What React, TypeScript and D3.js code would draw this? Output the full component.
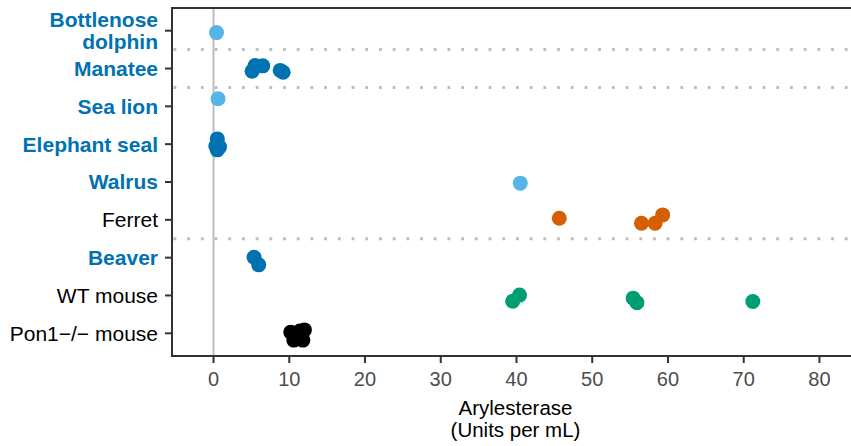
import React from "react";
import * as d3 from "d3";

const categories = [
  "Bottlenose dolphin",
  "Manatee",
  "Sea lion",
  "Elephant seal",
  "Walrus",
  "Ferret",
  "Beaver",
  "WT mouse",
  "Pon1−/− mouse",
];
const highlighted = [true, true, true, true, true, false, true, false, false];
const pointColors = ["#56B4E9", "#0072B2", "#56B4E9", "#0072B2", "#56B4E9", "#D55E00", "#0072B2", "#009E73", "#000000"];

const dolphinValues = [0.4];
const dolphinJitter = [0.05];
const manateeValues = [5.1, 5.5, 6.5, 8.8, 9.2];
const manateeJitter = [0.07, -0.08, -0.07, 0.05, 0.1];
const seaLionValues = [0.6];
const seaLionJitter = [-0.2];
const elephantSealValues = [0.5, 0.3, 0.8, 0.5];
const elephantSealJitter = [-0.14, 0.05, 0.07, 0.15];
const walrusValues = [40.5];
const walrusJitter = [0.03];
const ferretValues = [45.65, 56.5, 58.3, 59.3];
const ferretJitter = [-0.04, 0.09, 0.09, -0.13];
const beaverValues = [5.35, 5.97];
const beaverJitter = [-0.01, 0.19];
const wtMouseValues = [39.5, 40.4, 55.4, 55.9, 71.2];
const wtMouseJitter = [0.15, -0.01, 0.07, 0.19, 0.16];
const pon1Values = [10.2, 12.0, 10.6, 11.8, 11.2, 11.4];
const pon1Jitter = [-0.03, -0.09, 0.18, 0.18, 0.05, -0.06];

const seriesValues = [dolphinValues, manateeValues, seaLionValues, elephantSealValues, walrusValues, ferretValues, beaverValues, wtMouseValues, pon1Values];
const seriesJitter = [dolphinJitter, manateeJitter, seaLionJitter, elephantSealJitter, walrusJitter, ferretJitter, beaverJitter, wtMouseJitter, pon1Jitter];

const separatorsAfter = ["Bottlenose dolphin", "Manatee", "Ferret"];
const xTicks = [0, 10, 20, 30, 40, 50, 60, 70, 80];
const xTitle = ["Arylesterase", "(Units per mL)"];

const W = 851;
const H = 446;
const left = 172;
const right = 849;
const top = 8;
const bottom = 356;
const FONT = "'Liberation Sans', Arial, Helvetica, sans-serif";

export default function App() {
  const x = d3.scaleLinear().domain([-5.48, 83.9]).range([left, right]);
  const y = d3.scalePoint<string>().domain(categories).range([top, bottom]).padding(0.6);
  const step = y.step();

  const points: { cx: number; cy: number; color: string; key: string }[] = [];
  categories.forEach((c, i) => {
    seriesValues[i].forEach((v, j) => {
      points.push({
        cx: x(v),
        cy: (y(c) as number) + seriesJitter[i][j] * step,
        color: pointColors[i],
        key: `${i}-${j}`,
      });
    });
  });

  const cxTitle = (left + right) / 2 + 5;

  return (
    <svg
      width={W}
      height={H}
      style={{ position: "absolute", left: 0, top: 0, display: "block", background: "#fff" }}
      fontFamily={FONT}
    >
      <rect x={0} y={0} width={W} height={H} fill="#fff" />
      {/* zero line */}
      <line x1={x(0)} x2={x(0)} y1={top} y2={bottom} stroke="#bebebe" strokeWidth={2} />
      {/* separators */}
      {separatorsAfter.map((c) => {
        const yy = (y(c) as number) + step / 2;
        return (
          <line
            key={c}
            x1={left + 1.5}
            x2={right}
            y1={yy}
            y2={yy}
            stroke="#bdbdbd"
            strokeWidth={3}
            strokeDasharray="2.8 10.9"
          />
        );
      })}
      {/* points */}
      {points.map((p) => (
        <circle key={p.key} cx={p.cx} cy={p.cy} r={7.5} fill={p.color} />
      ))}
      {/* axes lines */}
      <line x1={left} x2={right + 2} y1={top} y2={top} stroke="#333" strokeWidth={2} />
      <line x1={left} x2={left} y1={top - 1} y2={bottom + 1} stroke="#333" strokeWidth={2} />
      <line x1={left} x2={right + 2} y1={bottom} y2={bottom} stroke="#333" strokeWidth={2} />
      {/* x ticks */}
      {xTicks.map((t) => (
        <g key={t} transform={`translate(${x(t)},0)`}>
          <line y1={bottom} y2={bottom + 7} stroke="#333" strokeWidth={2} />
          <text y={386} textAnchor="middle" fontSize={20} fill="#4d4d4d">
            {t}
          </text>
        </g>
      ))}
      {/* y ticks & labels */}
      {categories.map((c, i) => {
        const yy = y(c) as number;
        const words = c === "Bottlenose dolphin" ? ["Bottlenose", "dolphin"] : [c];
        return (
          <g key={c}>
            <line x1={left - 7} x2={left} y1={yy} y2={yy} stroke="#333" strokeWidth={2} />
            <text
              x={158}
              y={yy}
              textAnchor="end"
              fontSize={21}
              fontWeight={highlighted[i] ? "bold" : "normal"}
              fill={highlighted[i] ? "#0072B2" : "#000"}
            >
              {words.length === 1 ? (
                <tspan x={158} dy="0.35em">{words[0]}</tspan>
              ) : (
                <>
                  <tspan x={158} dy="-0.17em">{words[0]}</tspan>
                  <tspan x={158} dy="1.03em">{words[1]}</tspan>
                </>
              )}
            </text>
          </g>
        );
      })}
      {/* x title */}
      <text x={cxTitle} y={415} textAnchor="middle" fontSize={20.5} fill="#000">
        <tspan x={cxTitle}>{xTitle[0]}</tspan>
        <tspan x={cxTitle} dy={22}>{xTitle[1]}</tspan>
      </text>
    </svg>
  );
}
